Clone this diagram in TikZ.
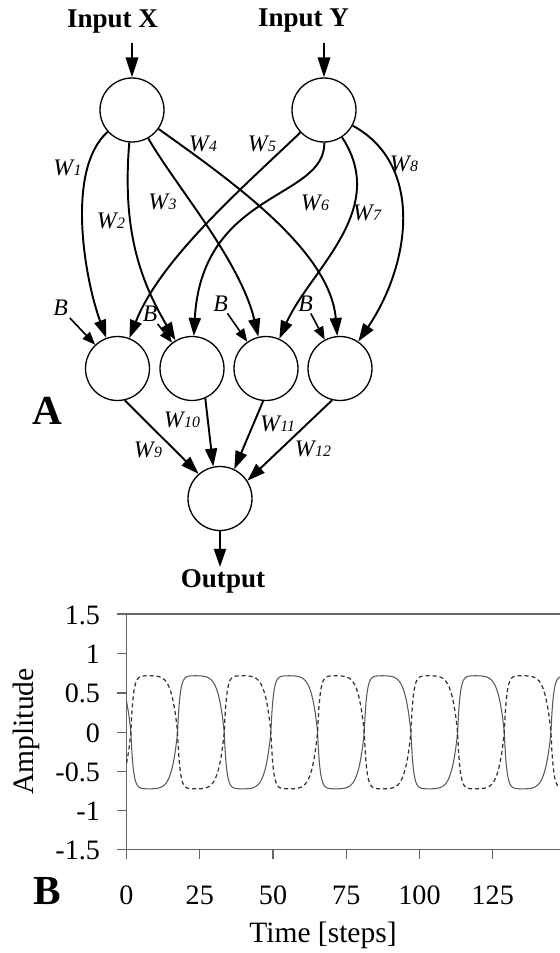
\documentclass[tikz,border=0pt]{standalone}
\usepackage{fontspec}
\setmainfont{Liberation Serif}
\usetikzlibrary{arrows.meta}
\newcommand{\wsub}[1]{W\kern0.3pt{\fontsize{9}{9}\selectfont #1}}
\tikzset{
  neuron/.style={draw, circle, line width=0.75pt, minimum size=1.28cm, inner sep=0pt},
  wire/.style={-{Triangle[length=3.6mm,width=2.4mm]}, line width=1.1pt},
  inwire/.style={-{Triangle[length=4mm,width=2.5mm]}, line width=1.1pt},
  biasarrow/.style={-{Triangle[length=2.6mm,width=2mm]}, line width=0.9pt},
  wlabel/.style={font=\fontsize{13.5}{14}\selectfont\itshape, inner sep=1pt},
  iolabel/.style={font=\fontsize{15.4}{16}\selectfont\bfseries, inner sep=1pt},
  panel/.style={font=\fontsize{23.5}{24}\selectfont\bfseries, inner sep=0pt},
  ticklabel/.style={font=\fontsize{16}{16}\selectfont, inner sep=1pt},
  axistitle/.style={font=\fontsize{16.8}{17}\selectfont, inner sep=0pt},
  axisline/.style={draw=black!60, line width=0.6pt},
  trace/.style={black!65, line width=0.6pt},
  trace2/.style={black!80, line width=0.7pt, dash pattern=on 2.3pt off 1.7pt}
}

\begin{document}
\begin{tikzpicture}[x=0.02cm, y=-0.02cm,
  declare function={
    sqph(\t)=(\t-1.5)/15.93+1;
    sqmag(\p)=0.72*(1-exp(-20*\p))*(1-(\p*\p)*(\p*\p)*(\p*\p)*(\p*\p));
    sqwave(\t)=(1-2*mod(floor(sqph(\t)),2))*sqmag(sqph(\t)-floor(sqph(\t)));
  }]
  \useasboundingbox (0,0) rectangle (560,953);

  % network (A)
  \node[neuron] (inX) at (132,110) {};
  \node[neuron] (inY) at (324,110) {};
  \node[neuron] (h1) at (117.5,368.5) {};
  \node[neuron] (h2) at (192,368.5) {};
  \node[neuron] (h3) at (266,368.5) {};
  \node[neuron] (h4) at (340,368.5) {};
  \node[neuron] (out) at (220,498.5) {};

  \node[iolabel, anchor=base] (lblX) at (112.5,28) {Input X};
  \node[iolabel, anchor=base] (lblY) at (303.5,27) {Input Y};
  \node[iolabel, anchor=base] (lblOut) at (223,587) {Output};
  \coordinate (xsrc) at (132,43);
  \coordinate (ysrc) at (324,43);
  \draw[inwire] (xsrc) -- (inX);
  \draw[inwire] (ysrc) -- (inY);
  \draw[wire] (out) -- (out |- lblOut.north);

  \draw[wire] (inX) .. controls (65,170) and (85,280) .. (h1);
  \draw[wire] (inY) .. controls (240,190) and (160,260) .. (h1);
  \draw[wire] (inX) .. controls (122,230) and (140,280) .. (h2);
  \draw[wire] (inY) .. controls (325,200) and (202,190) .. (h2);
  \draw[wire] (inX) .. controls (175,185) and (240,260) .. (h3);
  \draw[wire] (inY) .. controls (390,210) and (310,270) .. (h3);
  \draw[wire] (inX) .. controls (230,180) and (330,250) .. (h4);
  \draw[wire] (inY) .. controls (425,165) and (410,265) .. (h4);

  \draw[wire] (h1.-77) -- (out.131);
  \draw[wire] (h2.-66) -- (out.102);
  \draw[wire] (h3.-95) -- (out.64);
  \draw[wire] (h4.-104) -- (out.33);

  \node[wlabel] (w1) at (67.5,167.5) {\wsub{1}};
  \node[wlabel] (w2) at (111,221) {\wsub{2}};
  \node[wlabel] (w3) at (162.5,202) {\wsub{3}};
  \node[wlabel] (w4) at (203,143.5) {\wsub{4}};
  \node[wlabel] (w5) at (262,143.5) {\wsub{5}};
  \node[wlabel] (w6) at (315,203) {\wsub{6}};
  \node[wlabel] (w7) at (367,212.5) {\wsub{7}};
  \node[wlabel] (w8) at (404,164) {\wsub{8}};
  \node[wlabel] (w9) at (148,450) {\wsub{9}};
  \node[wlabel] (w10) at (182,419.5) {\wsub{10}};
  \node[wlabel] (w11) at (277.5,423.5) {\wsub{11}};
  \node[wlabel] (w12) at (313,449) {\wsub{12}};

  \node[wlabel] (b1) at (60.5,308) {B};
  \node[wlabel] (b2) at (150,314) {B};
  \node[wlabel] (b3) at (220.5,303.5) {B};
  \node[wlabel] (b4) at (305.5,303.5) {B};
  \draw[biasarrow] (b1) -- (h1);
  \draw[biasarrow] (b2) -- (h2);
  \draw[biasarrow] (b3) -- (h3);
  \draw[biasarrow] (b4) -- (h4);

  \node[panel] (panelA) at (47.5,411) {A};

  % time course (B)
  \node[panel] (panelB) at (47,891) {B};
  \draw[axisline] (117,614) -- (560,614);
  \draw[axisline] (117,849.3) -- (560,849.3);
  \draw[axisline] (126.5,614) -- (126.5,859);
  \foreach \v in {1,0.5,0,-0.5,-1}
    \draw[axisline] (117,{732.3-78.6*\v}) -- (126.5,{732.3-78.6*\v});
  \foreach \t in {25,50,75,100,125}
    \draw[axisline] ({126.5+2.93*\t},849.3) -- ({126.5+2.93*\t},859);
  \foreach \v [count=\i] in {1.5,1,0.5,0,-0.5,-1,-1.5}
    \node[ticklabel, anchor=east] (ytick\i) at (102,{733-78.6*\v}) {\v};
  \foreach \t [count=\i] in {0,25,50,75,100,125}
    \node[ticklabel] (xtick\i) at ({126.5+2.93*\t},895.5) {\t};
  \node[axistitle, anchor=base] (xtitle) at (323,942) {Time [steps]};
  \node[axistitle, rotate=90, anchor=base] (ytitle) at (33,731.5) {Amplitude};

  \draw[trace] plot[domain=0:147.9, samples=600] ({126.5+2.93*\x},{732.3-78.6*sqwave(\x)});
  \draw[trace2] plot[domain=0:147.9, samples=600] ({126.5+2.93*\x},{732.3+78.6*sqwave(\x)});
\end{tikzpicture}
\end{document}
